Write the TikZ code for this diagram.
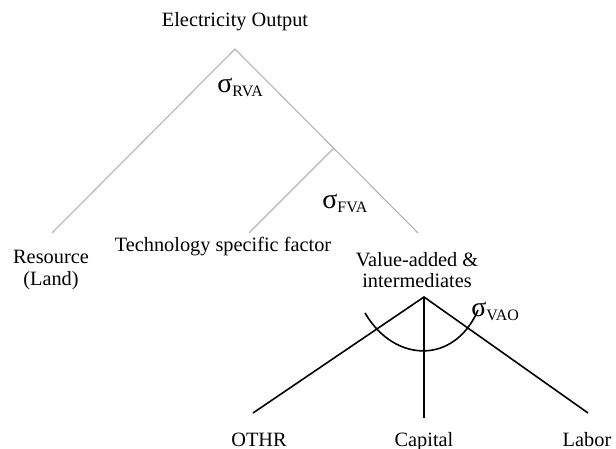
\documentclass[tikz,border=0pt]{standalone}
\usepackage{fontspec}
\setmainfont{Liberation Serif}
\usetikzlibrary{positioning}
\definecolor{nestgrey}{HTML}{B4B4B4}
\newcommand{\sig}[1]{σ{\fontsize{8}{9}\selectfont\raisebox{-2pt}{#1}}}
\tikzset{
  lbl/.style={font=\fontsize{10.2}{10.6}\selectfont,align=center,inner sep=0pt},
  sg/.style={font=\fontsize{14}{15}\selectfont,inner sep=0pt,anchor=west},
  upper/.style={draw=nestgrey,line width=0.55pt},
  lower/.style={draw=black,line width=0.8pt},
}
\begin{document}
\begin{tikzpicture}[x=0.5bp,y=-0.5bp]
\useasboundingbox (0,0) rectangle (616,449);
  % top nest
  \node[lbl,anchor=base] (elec) at (235,27) {Electricity Output};
  \coordinate (top) at (235,49);
  \coordinate (res) at (52,233);
  \coordinate (fva) at (334,148);
  \coordinate (tec) at (249,233);
  \coordinate (vai) at (418,233);
  \draw[upper] (res) -- (top) -- (vai);
  \draw[upper] (fva) -- (tec);
  \node[sg] (srva) at (217,87) {\sig{RVA}};
  \node[sg] (sfva) at (322,203) {\sig{FVA}};
  \node[lbl] (resource) at (51,270) {Resource\\(Land)};
  \node[lbl,anchor=base] (tech) at (223,252) {Technology specific factor};
  \node[lbl] (valadd) at (417,270) {Value-added \&\\intermediates};
  % value-added nest
  \coordinate (vtop) at (424,297);
  \coordinate (othr) at (253,413);
  \coordinate (cap) at (424,418);
  \coordinate (lab) at (588,413);
  \draw[lower] (othr) -- (vtop) -- (lab);
  \draw[lower] (vtop) -- (cap);
  \draw[lower] (365,313) .. controls (395,364) and (455,364) .. (478,310);
  \node[sg] (svao) at (471,311) {\sig{VAO}};
  \node[lbl,anchor=base] (othrlbl) at (259,446) {OTHR};
  \node[lbl,anchor=base] (caplbl) at (424,446) {Capital};
  \node[lbl,anchor=base] (lablbl) at (587,446) {Labor};
\end{tikzpicture}
\end{document}
